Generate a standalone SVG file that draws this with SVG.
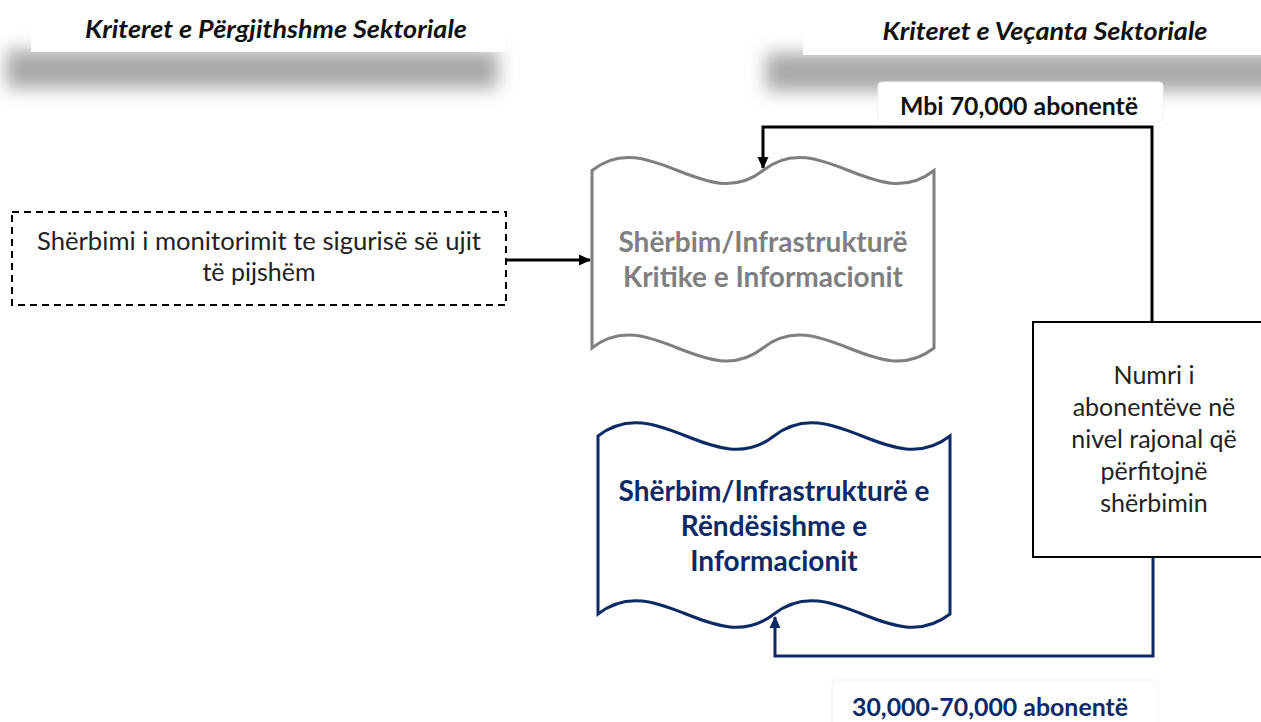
<svg xmlns="http://www.w3.org/2000/svg" width="1261" height="722" viewBox="0 0 1261 722">
<defs>
<filter id="blur" x="-20%" y="-100%" width="140%" height="300%"><feGaussianBlur stdDeviation="9"/></filter>
<marker id="arrK" markerWidth="12" markerHeight="12" refX="11" refY="6" orient="auto" markerUnits="userSpaceOnUse"><path d="M0,0.5 L12,6 L0,11.5 z" fill="#000"/></marker>
<marker id="arrB" markerWidth="12" markerHeight="12" refX="11" refY="6" orient="auto" markerUnits="userSpaceOnUse"><path d="M0,0.5 L12,6 L0,11.5 z" fill="#0d2a66"/></marker>
<style>
text{font-family:Lato,"Liberation Sans",sans-serif;text-anchor:middle}
.hdr{font-size:24px;font-weight:bold;font-style:italic;fill:#111}
.lbl{font-size:24px;font-weight:bold}
.body{font-size:25px;fill:#222}
.gray{font-size:28px;font-weight:bold;fill:#7f7f7f}
.blue{font-size:28px;font-weight:bold;fill:#0d2a66}
</style>
</defs>
<rect width="1261" height="722" fill="#fff"/>
<g id="header-left">
<rect x="6" y="50" width="492" height="38" fill="#a8a8a8" filter="url(#blur)"/>
<rect x="31" y="0" width="474" height="52" fill="#fff"/>
<text class="hdr" x="276" y="38" textLength="382" lengthAdjust="spacingAndGlyphs">Kriteret e Përgjithshme Sektoriale</text>
</g>
<g id="header-right">
<rect x="766" y="53" width="520" height="38" fill="#a8a8a8" filter="url(#blur)"/>
<rect x="803" y="0" width="458" height="55" fill="#fff"/>
<text class="hdr" x="1045" y="40" textLength="325" lengthAdjust="spacingAndGlyphs">Kriteret e Veçanta Sektoriale</text>
</g>
<g id="connectors" fill="none" stroke-width="3">
<path d="M507,260 H590" stroke="#000" marker-end="url(#arrK)"/>
<path d="M1152,322 V127 H763 V168" stroke="#000" marker-end="url(#arrK)"/>
<path d="M1153,557 V656 H775 V617" stroke="#0d2a66" marker-end="url(#arrB)"/>
</g>
<g id="label-top">
<rect x="878" y="82" width="285" height="40" rx="4" fill="#fff" stroke="#f2f2f2"/>
<text class="lbl" x="1019" y="115" fill="#111" textLength="238" lengthAdjust="spacingAndGlyphs">Mbi 70,000 abonentë</text>
</g>
<g id="label-bottom">
<rect x="832" y="680" width="326" height="48" rx="4" fill="#fff" stroke="#f2f2f2"/>
<text class="lbl" x="990" y="716" fill="#0d2a66" textLength="276" lengthAdjust="spacingAndGlyphs">30,000-70,000 abonentë</text>
</g>
<g id="node-source">
<rect x="12" y="212" width="494" height="93" fill="#fff" stroke="#000" stroke-width="2" stroke-dasharray="7,5"/>
<text class="body" x="259" y="250" textLength="444" lengthAdjust="spacingAndGlyphs">Shërbimi i monitorimit  te sigurisë së ujit</text>
<text class="body" x="259" y="281">të pijshëm</text>
</g>
<g id="node-critical">
<path d="M592,170.5 C649,125.5 706,215.5 763,170.5 C820,125.5 877,215.5 934,170.5 V348 C877,393 820,303 763,348 C706,393 649,303 592,348 Z" fill="#fff" stroke="#7f7f7f" stroke-width="3"/>
<text class="gray" x="763" y="252">Shërbim/Infrastrukturë</text>
<text class="gray" x="763" y="287">Kritike e Informacionit</text>
</g>
<g id="node-important">
<path d="M598,436 C657,390 715,482 774,436 C833,390 891,482 950,436 V614 C891,660 833,568 774,614 C715,660 657,568 598,614 Z" fill="#fff" stroke="#0d2a66" stroke-width="3"/>
<text class="blue" x="774" y="501">Shërbim/Infrastrukturë e</text>
<text class="blue" x="774" y="536">Rëndësishme e</text>
<text class="blue" x="774" y="571">Informacionit</text>
</g>
<g id="node-subscribers">
<rect x="1033" y="322" width="250" height="235" fill="#fff" stroke="#000" stroke-width="2"/>
<text class="body" x="1154" y="384">Numri i</text>
<text class="body" x="1154" y="416">abonentëve në</text>
<text class="body" x="1154" y="448">nivel rajonal që</text>
<text class="body" x="1154" y="480">përfitojnë</text>
<text class="body" x="1154" y="512">shërbimin</text>
</g>
</svg>
